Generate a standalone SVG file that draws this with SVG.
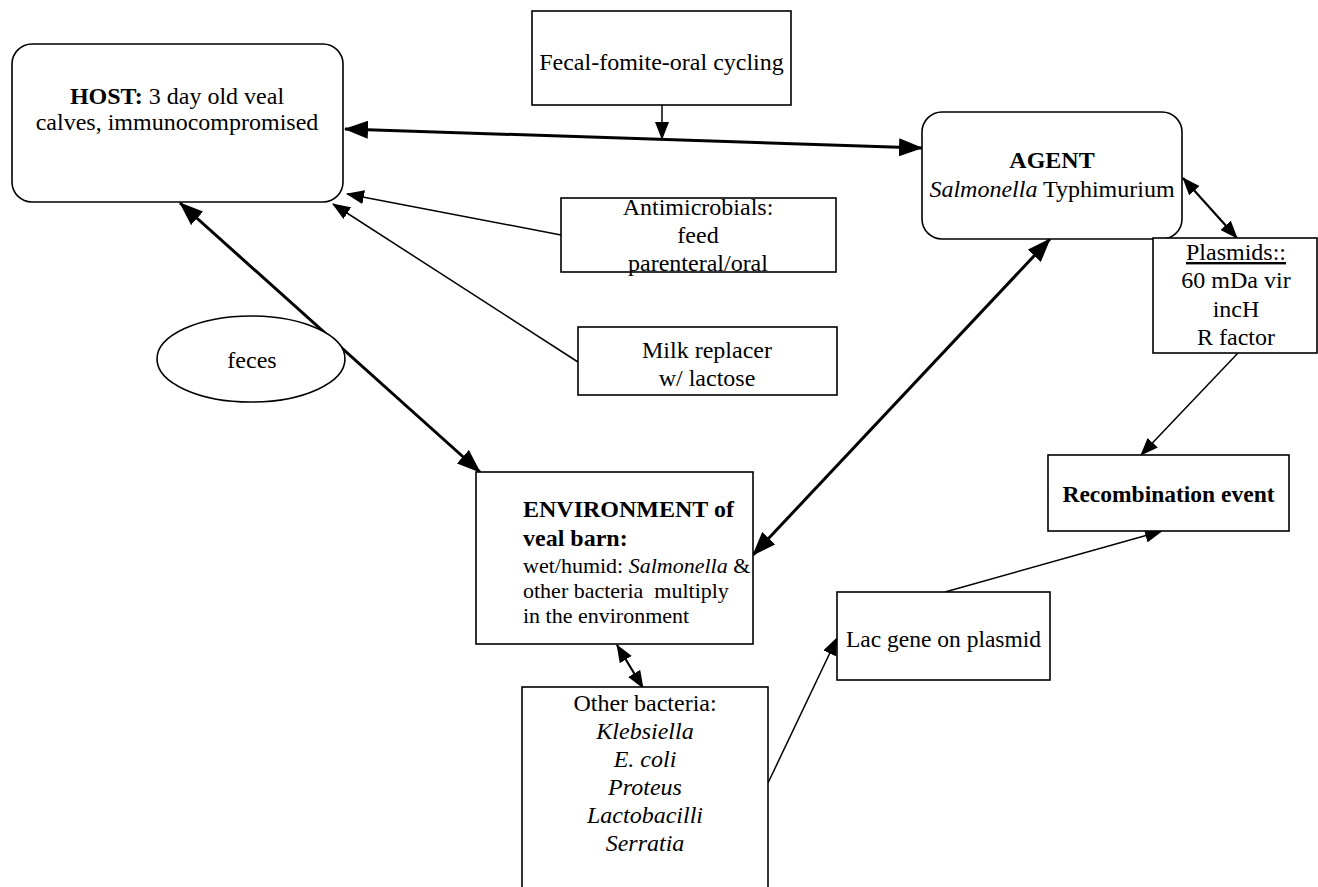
<svg xmlns="http://www.w3.org/2000/svg" width="1318" height="887" viewBox="0 0 1318 887">
<style>
.box{fill:#fff;stroke:#000;stroke-width:1.6}
.t{font-family:"Liberation Serif","Times New Roman",serif;font-size:24px;fill:#000;text-anchor:middle}
.l{text-anchor:start}
.s{font-size:22px}
.m{font-size:23.5px}
.b{font-weight:bold}
.i{font-style:italic}
.thick{stroke:#000;stroke-width:3;fill:none}
.med{stroke:#000;stroke-width:2.2;fill:none}
.thin{stroke:#000;stroke-width:1.5;fill:none}
</style>
<defs>
<marker id="big" viewBox="0 0 24 18" refX="23" refY="9" markerWidth="24" markerHeight="18" markerUnits="userSpaceOnUse" orient="auto-start-reverse"><path d="M0,0 L24,9 L0,18 z" fill="#000"/></marker>
<marker id="sm" viewBox="0 0 18 14" refX="17" refY="7" markerWidth="18" markerHeight="14" markerUnits="userSpaceOnUse" orient="auto-start-reverse"><path d="M0,0 L18,7 L0,14 z" fill="#000"/></marker>
</defs>
<rect width="1318" height="887" fill="#fff"/>
<g id="connectors">
<line class="thick" x1="345" y1="129" x2="922" y2="148" marker-start="url(#big)" marker-end="url(#big)"/>
<line class="thin" x1="662" y1="105" x2="662" y2="139" marker-end="url(#sm)"/>
<line class="thin" x1="561" y1="235" x2="347" y2="194" marker-end="url(#sm)"/>
<line class="thin" x1="578" y1="362" x2="333" y2="204" marker-end="url(#sm)"/>
<line class="thick" x1="180" y1="203" x2="480" y2="472" marker-start="url(#big)" marker-end="url(#big)"/>
<line class="thick" x1="1050" y1="239" x2="753" y2="555" marker-start="url(#big)" marker-end="url(#big)"/>
<line class="med" x1="1183" y1="178" x2="1237" y2="238" marker-start="url(#sm)" marker-end="url(#sm)"/>
<line class="thin" x1="1238" y1="353" x2="1141" y2="455" marker-end="url(#sm)"/>
<line class="thin" x1="945" y1="592" x2="1162" y2="531" marker-end="url(#sm)"/>
<line class="thin" x1="768" y1="783" x2="837" y2="638" marker-end="url(#sm)"/>
<line class="med" x1="617" y1="645" x2="643" y2="688" marker-start="url(#sm)" marker-end="url(#sm)"/>
</g>
<g id="host">
<rect class="box" x="12" y="44" width="331" height="158" rx="20"/>
<text class="t" x="177" y="104"><tspan class="b">HOST:</tspan> 3 day old veal</text>
<text class="t" x="177" y="130">calves, immunocompromised</text>
</g>
<g id="fecal">
<rect class="box" x="532" y="11" width="259" height="94"/>
<text class="t" x="661.5" y="70">Fecal-fomite-oral cycling</text>
</g>
<g id="agent">
<rect class="box" x="922" y="112" width="260" height="127" rx="20"/>
<text class="t b" x="1052" y="168">AGENT</text>
<text class="t" x="1052" y="197"><tspan class="i">Salmonella</tspan> Typhimurium</text>
</g>
<g id="plasmids">
<rect class="box" x="1153" y="238" width="164" height="115"/>
<text class="t" x="1236" y="260" text-decoration="underline">Plasmids::</text>
<text class="t" x="1236" y="288">60 mDa vir</text>
<text class="t" x="1236" y="317">incH</text>
<text class="t" x="1236" y="345">R factor</text>
</g>
<g id="antimicrobials">
<rect class="box" x="561" y="198" width="275" height="74"/>
<text class="t" x="698" y="215">Antimicrobials:</text>
<text class="t" x="698" y="243">feed</text>
<text class="t" x="698" y="271">parenteral/oral</text>
</g>
<g id="milk">
<rect class="box" x="578" y="327" width="259" height="68"/>
<text class="t" x="707" y="358">Milk replacer</text>
<text class="t" x="707" y="386">w/ lactose</text>
</g>
<g id="feces">
<ellipse class="box" cx="251" cy="359" rx="94" ry="43"/>
<text class="t" x="252" y="368">feces</text>
</g>
<g id="environment">
<rect class="box" x="476" y="472" width="277" height="172"/>
<text class="t l b" x="523" y="517">ENVIRONMENT of</text>
<text class="t l b" x="523" y="546">veal barn:</text>
<text class="t l s" x="523" y="573">wet/humid: <tspan class="i">Salmonella</tspan> &amp;</text>
<text class="t l s" x="523" y="598" style="white-space:pre">other bacteria  multiply</text>
<text class="t l s" x="523" y="623">in the environment</text>
</g>
<g id="other-bacteria">
<rect class="box" x="522" y="687" width="246" height="220"/>
<text class="t" x="645" y="711">Other bacteria:</text>
<text class="t i" x="645" y="739">Klebsiella</text>
<text class="t i" x="645" y="767">E. coli</text>
<text class="t i" x="645" y="795">Proteus</text>
<text class="t i" x="645" y="823">Lactobacilli</text>
<text class="t i" x="645" y="851">Serratia</text>
</g>
<g id="lac">
<rect class="box" x="837" y="592" width="213" height="88"/>
<text class="t m" x="943.5" y="647">Lac gene on plasmid</text>
</g>
<g id="recombination">
<rect class="box" x="1048" y="455" width="241" height="76"/>
<text class="t b m" x="1168.5" y="502">Recombination event</text>
</g>
</svg>
